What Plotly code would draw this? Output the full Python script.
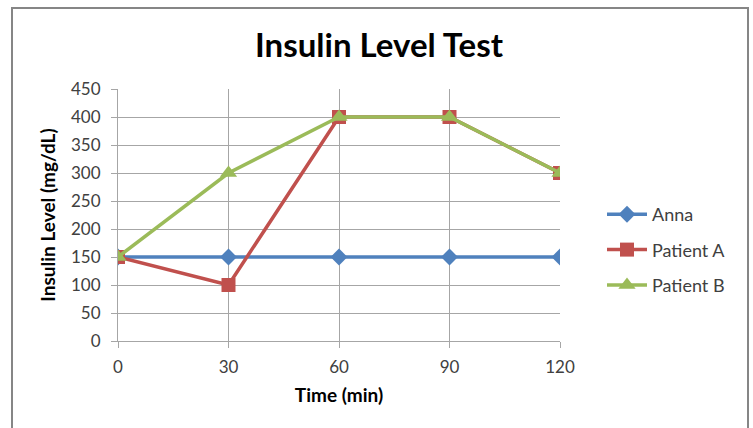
import plotly.graph_objects as go

times = [0, 30, 60, 90, 120]
anna = [150, 150, 150, 150, 150]
patient_a = [150, 100, 400, 400, 300]
patient_b = [150, 300, 400, 400, 300]
y_ticks = [0, 50, 100, 150, 200, 250, 300, 350, 400, 450]

FONT = "Lato"
fig = go.Figure()
series = [
    ("Anna", anna, "#4F81BD", "diamond", 13),
    ("Patient A", patient_a, "#C0504D", "square", 14),
    ("Patient B", patient_b, "#9BBB59", "triangle-up", 15),
]
for name, vals, col, sym, sz in series:
    fig.add_trace(go.Scatter(x=times, y=vals, name=name, mode="lines+markers",
                             legendgroup=name,
                             line=dict(color=col, width=3.5),
                             marker=dict(symbol=sym, size=sz, color=col)))

L, R, T, B = 118, 560, 89, 341
W, H = 753, 428
pw, ph = R - L, B - T
def px(x): return (x - L) / pw
def py(y): return (B - y) / ph

fig.update_layout(
    width=W, height=H,
    margin=dict(l=L, r=W - R, t=T, b=H - B),
    paper_bgcolor="white", plot_bgcolor="white",
    font=dict(family=FONT, size=17, color="#404040"),
    title=dict(text="<b>Insulin Level Test</b>", x=px(379), xref="paper",
               y=1 - 45 / H, yref="container", xanchor="center", yanchor="middle",
               font=dict(family=FONT, size=33, color="black")),
    xaxis=dict(range=[0, 120], tickvals=times, showgrid=True, gridcolor="#A6A6A6",
               gridwidth=1, zeroline=False, showline=True, linecolor="#A6A6A6",
               ticks="outside", ticklen=6, tickcolor="#A6A6A6", ticklabelstandoff=5,
               tickfont=dict(family=FONT, size=17, color="#404040"),
               title=dict(text="<b>Time (min)</b>", font=dict(family=FONT, size=19, color="black"),
                          standoff=12)),
    yaxis=dict(range=[0, 450], tickvals=y_ticks, showgrid=True, gridcolor="#A6A6A6",
               gridwidth=1, zeroline=False, showline=True, linecolor="#A6A6A6",
               ticks="outside", ticklen=6, tickcolor="#A6A6A6", ticklabelstandoff=7,
               tickfont=dict(family=FONT, size=17, color="#404040"),
               title=dict(text="<b>Insulin Level (mg/dL)</b>", font=dict(family=FONT, size=19, color="black"),
                          standoff=10)),
    legend=dict(x=px(602), y=py(196), xanchor="left", yanchor="top",
                font=dict(family=FONT, size=18, color="#404040"),
                tracegroupgap=9, itemwidth=40, bgcolor="rgba(0,0,0,0)"),
    shapes=[dict(type="rect", xref="paper", yref="paper",
                 x0=px(12), x1=px(748), y0=py(440), y1=py(8),
                 line=dict(color="#868686", width=2), layer="below")],
)
fig.write_html("out.html", config={"displayModeBar": False},
               post_script="document.body.style.margin='0px';")
